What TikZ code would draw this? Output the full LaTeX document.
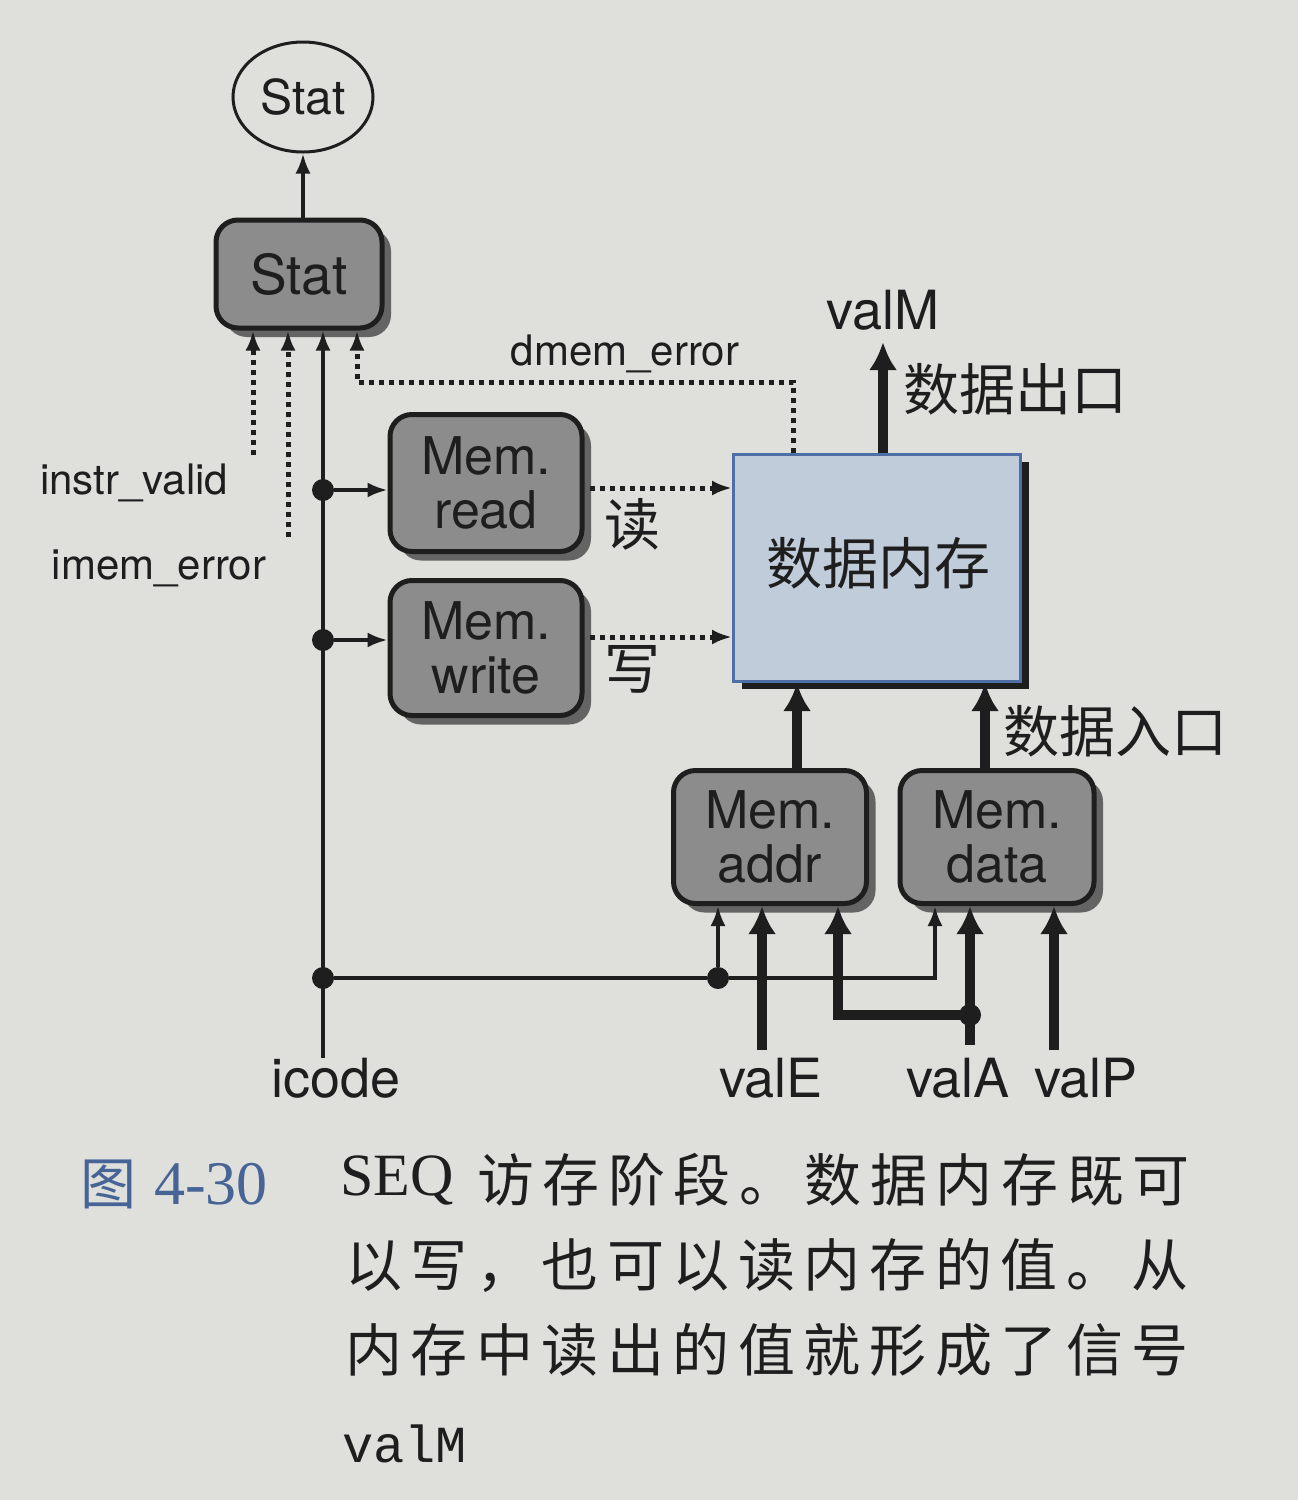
\documentclass[tikz,border=0pt]{standalone}
\usepackage{fontspec}
\setmainfont{TeX Gyre Heros}
\newfontfamily\cjk{Noto Sans CJK SC}
\newfontfamily\cjkcap[LetterSpace=15]{Noto Sans CJK SC}
\newfontfamily\capserif{Liberation Serif}
\newfontfamily\capmono{Liberation Mono}
\usetikzlibrary{arrows.meta,shapes.geometric,shadows}
\definecolor{bg}{RGB}{223,223,219}
\definecolor{boxgray}{RGB}{140,140,140}
\definecolor{shadowgray}{RGB}{100,100,100}
\definecolor{memfill}{RGB}{192,204,217}
\definecolor{memborder}{RGB}{78,110,165}
\definecolor{ink}{RGB}{30,30,30}
\definecolor{capblue}{RGB}{70,100,150}
\tikzset{
  graybox/.style={draw=ink, line width=5pt, fill=boxgray, rounded corners=22pt,
    align=center, text=ink, inner sep=0pt, font=\fontsize{52}{54}\selectfont,
    drop shadow={shadow xshift=9pt, shadow yshift=-9pt, fill=shadowgray, opacity=1}},
  thinwire/.style={draw=ink, line width=3.5pt},
  thinarrow/.style={thinwire, -{Latex[length=20pt,width=15pt]}},
  thickwire/.style={draw=ink, line width=10pt, line join=miter},
  thickarrow/.style={thickwire, -{Latex[length=28pt,width=28pt]}},
  dotwire/.style={draw=ink, line width=5pt, dash pattern=on 5pt off 5pt},
  dotarrow/.style={dotwire, -{Latex[length=20pt,width=15pt]}},
  jdot/.style={circle, fill=ink, inner sep=0pt, minimum size=22pt},
  lbl/.style={text=ink, anchor=base, inner sep=0pt, font=\fontsize{42}{44}\selectfont},
  biglbl/.style={text=ink, anchor=base, inner sep=0pt, font=\fontsize{54}{56}\selectfont},
  cjklbl/.style={text=ink, inner sep=0pt, font=\fontsize{56}{58}\selectfont\cjk},
  capline/.style={text=ink, anchor=west, inner sep=0pt, font=\fontsize{57}{60}\selectfont\cjkcap}
}
\begin{document}
\begin{tikzpicture}[x=1pt,y=-1pt]
\fill[bg] (0,0) rectangle (1298,1500);
\useasboundingbox (0,0) rectangle (1298,1500);

% nodes
\node[ellipse, draw=ink, line width=3pt, fill=bg, minimum width=140pt, minimum height=110pt,
      text=ink, font=\fontsize{48}{50}\selectfont] (stat) at (303,97) {Stat};
\node[graybox, minimum width=166pt, minimum height=108pt, font=\fontsize{55}{58}\selectfont] (statbox) at (299,274) {Stat};
\node[graybox, minimum width=192pt, minimum height=137pt] (memread) at (486,483) {Mem.\\read};
\node[graybox, minimum width=192pt, minimum height=135pt] (memwrite) at (486,648) {Mem.\\write};
\node[graybox, minimum width=193pt, minimum height=133pt] (memaddr) at (770,837) {Mem.\\addr};
\node[graybox, minimum width=194pt, minimum height=133pt] (memdata) at (997,837) {Mem.\\data};
\node[draw=memborder, line width=3pt, fill=memfill, minimum width=287pt, minimum height=227pt,
      inner sep=0pt, drop shadow={shadow xshift=8pt, shadow yshift=-7pt, fill=ink, opacity=1}]
      (dmem) at (877,568) {};
\node[cjklbl] (dmemtxt) at (878,563) {数据内存};

% helper coordinates
\coordinate (iv) at (253,455);
\coordinate (ie) at (288,537);
\coordinate (ic) at (323,1058);
\coordinate (de1) at (793,382);
\coordinate (de2) at (357,382);
\coordinate (xm) at (883,342);
\coordinate (xa) at (797,0);
\coordinate (xd) at (985,0);
\coordinate (c935) at (935,978);
\coordinate (vE) at (762,1050);
\coordinate (vA) at (970,1045);
\coordinate (vAb) at (838,1015);
\coordinate (vP) at (1054,1050);

% Stat connections
\draw[thinarrow] (statbox.north -| stat.south) -- (stat.south);
\draw[dotarrow] (iv) -- (iv |- statbox.south);
\draw[dotarrow] (ie) -- (ie |- statbox.south);
\draw[thinarrow] (ic) -- (ic |- statbox.south);
\draw[dotarrow] (de1 |- dmem.north) -- (de1) -- (de2) -- (de2 |- statbox.south);

% icode junctions
\node[jdot] (j1) at (323,490) {};
\node[jdot] (j2) at (323,640) {};
\node[jdot] (j3) at (323,978) {};
\node[jdot] (j4) at (718,978) {};
\draw[thinarrow] (j1) -- (j1 -| memread.west);
\draw[thinarrow] (j2) -- (j2 -| memwrite.west);
\draw[thinwire] (j3) -- (j4);
\draw[thinarrow] (j4) -- (c935) -- (c935 |- memdata.south);
\draw[thinarrow] (j4) -- (j4 |- memaddr.south);

% read / write control
\coordinate (rd) at (590,488);
\coordinate (wr) at (590,637);
\draw[dotarrow] (rd) -- (rd -| dmem.west);
\draw[dotarrow] (wr) -- (wr -| dmem.west);
\node[cjklbl] (rdl) at (632,524) {读};
\node[cjklbl] (wrl) at (632,669) {写};

% data paths
\draw[thickarrow] (xm |- dmem.north) -- (xm);
\draw[thickarrow] (xa |- memaddr.north) -- (xa |- dmem.south);
\draw[thickarrow] (xd |- memdata.north) -- (xd |- dmem.south);
\draw[thickarrow] (vE) -- (vE |- memaddr.south);
\draw[thickarrow] (vA) -- (vA |- memdata.south);
\draw[thickarrow] (vP) -- (vP |- memdata.south);
\node[jdot] (j5) at (970,1015) {};
\draw[thickarrow] (j5.center) -- (vAb) -- (vAb |- memaddr.south);

% labels
\node[lbl] (ldm) at (625,365) {dmem\_error};
\node[lbl] (liv) at (134,494) {instr\_valid};
\node[lbl] (lie) at (159,579) {imem\_error};
\node[biglbl] (lic) at (336,1097) {icode};
\node[biglbl] (lvE) at (771,1097) {valE};
\node[biglbl] (lvA) at (958,1097) {valA};
\node[biglbl] (lvP) at (1086,1097) {valP};
\node[biglbl] (lvM) at (883,329) {valM};
\node[cjklbl, anchor=west] (lout) at (903,389) {数据出口};
\node[cjklbl, anchor=west] (lin) at (1003,731) {数据入口};

% caption
\node[text=capblue, inner sep=0pt, font=\fontsize{56}{58}\selectfont\cjk] (fig) at (108,1184) {图};
\node[text=capblue, inner sep=0pt, anchor=west, font=\fontsize{62}{64}\selectfont\capserif] (fignum) at (154,1184) {4-30};
\node[text=ink, inner sep=0pt, anchor=west, font=\fontsize{60}{62}\selectfont\capserif] (seq) at (340,1180) {SEQ};
\node[capline] (cap1) at (477,1180) {访存阶段。数据内存既可};
\node[capline] (cap2) at (345,1265) {以写，也可以读内存的值。从};
\node[capline] (cap3) at (345,1350) {内存中读出的值就形成了信号};
\node[text=ink, inner sep=0pt, anchor=west, font=\fontsize{52}{54}\selectfont\capmono] (cap4) at (342,1444) {valM};
\end{tikzpicture}
\end{document}
